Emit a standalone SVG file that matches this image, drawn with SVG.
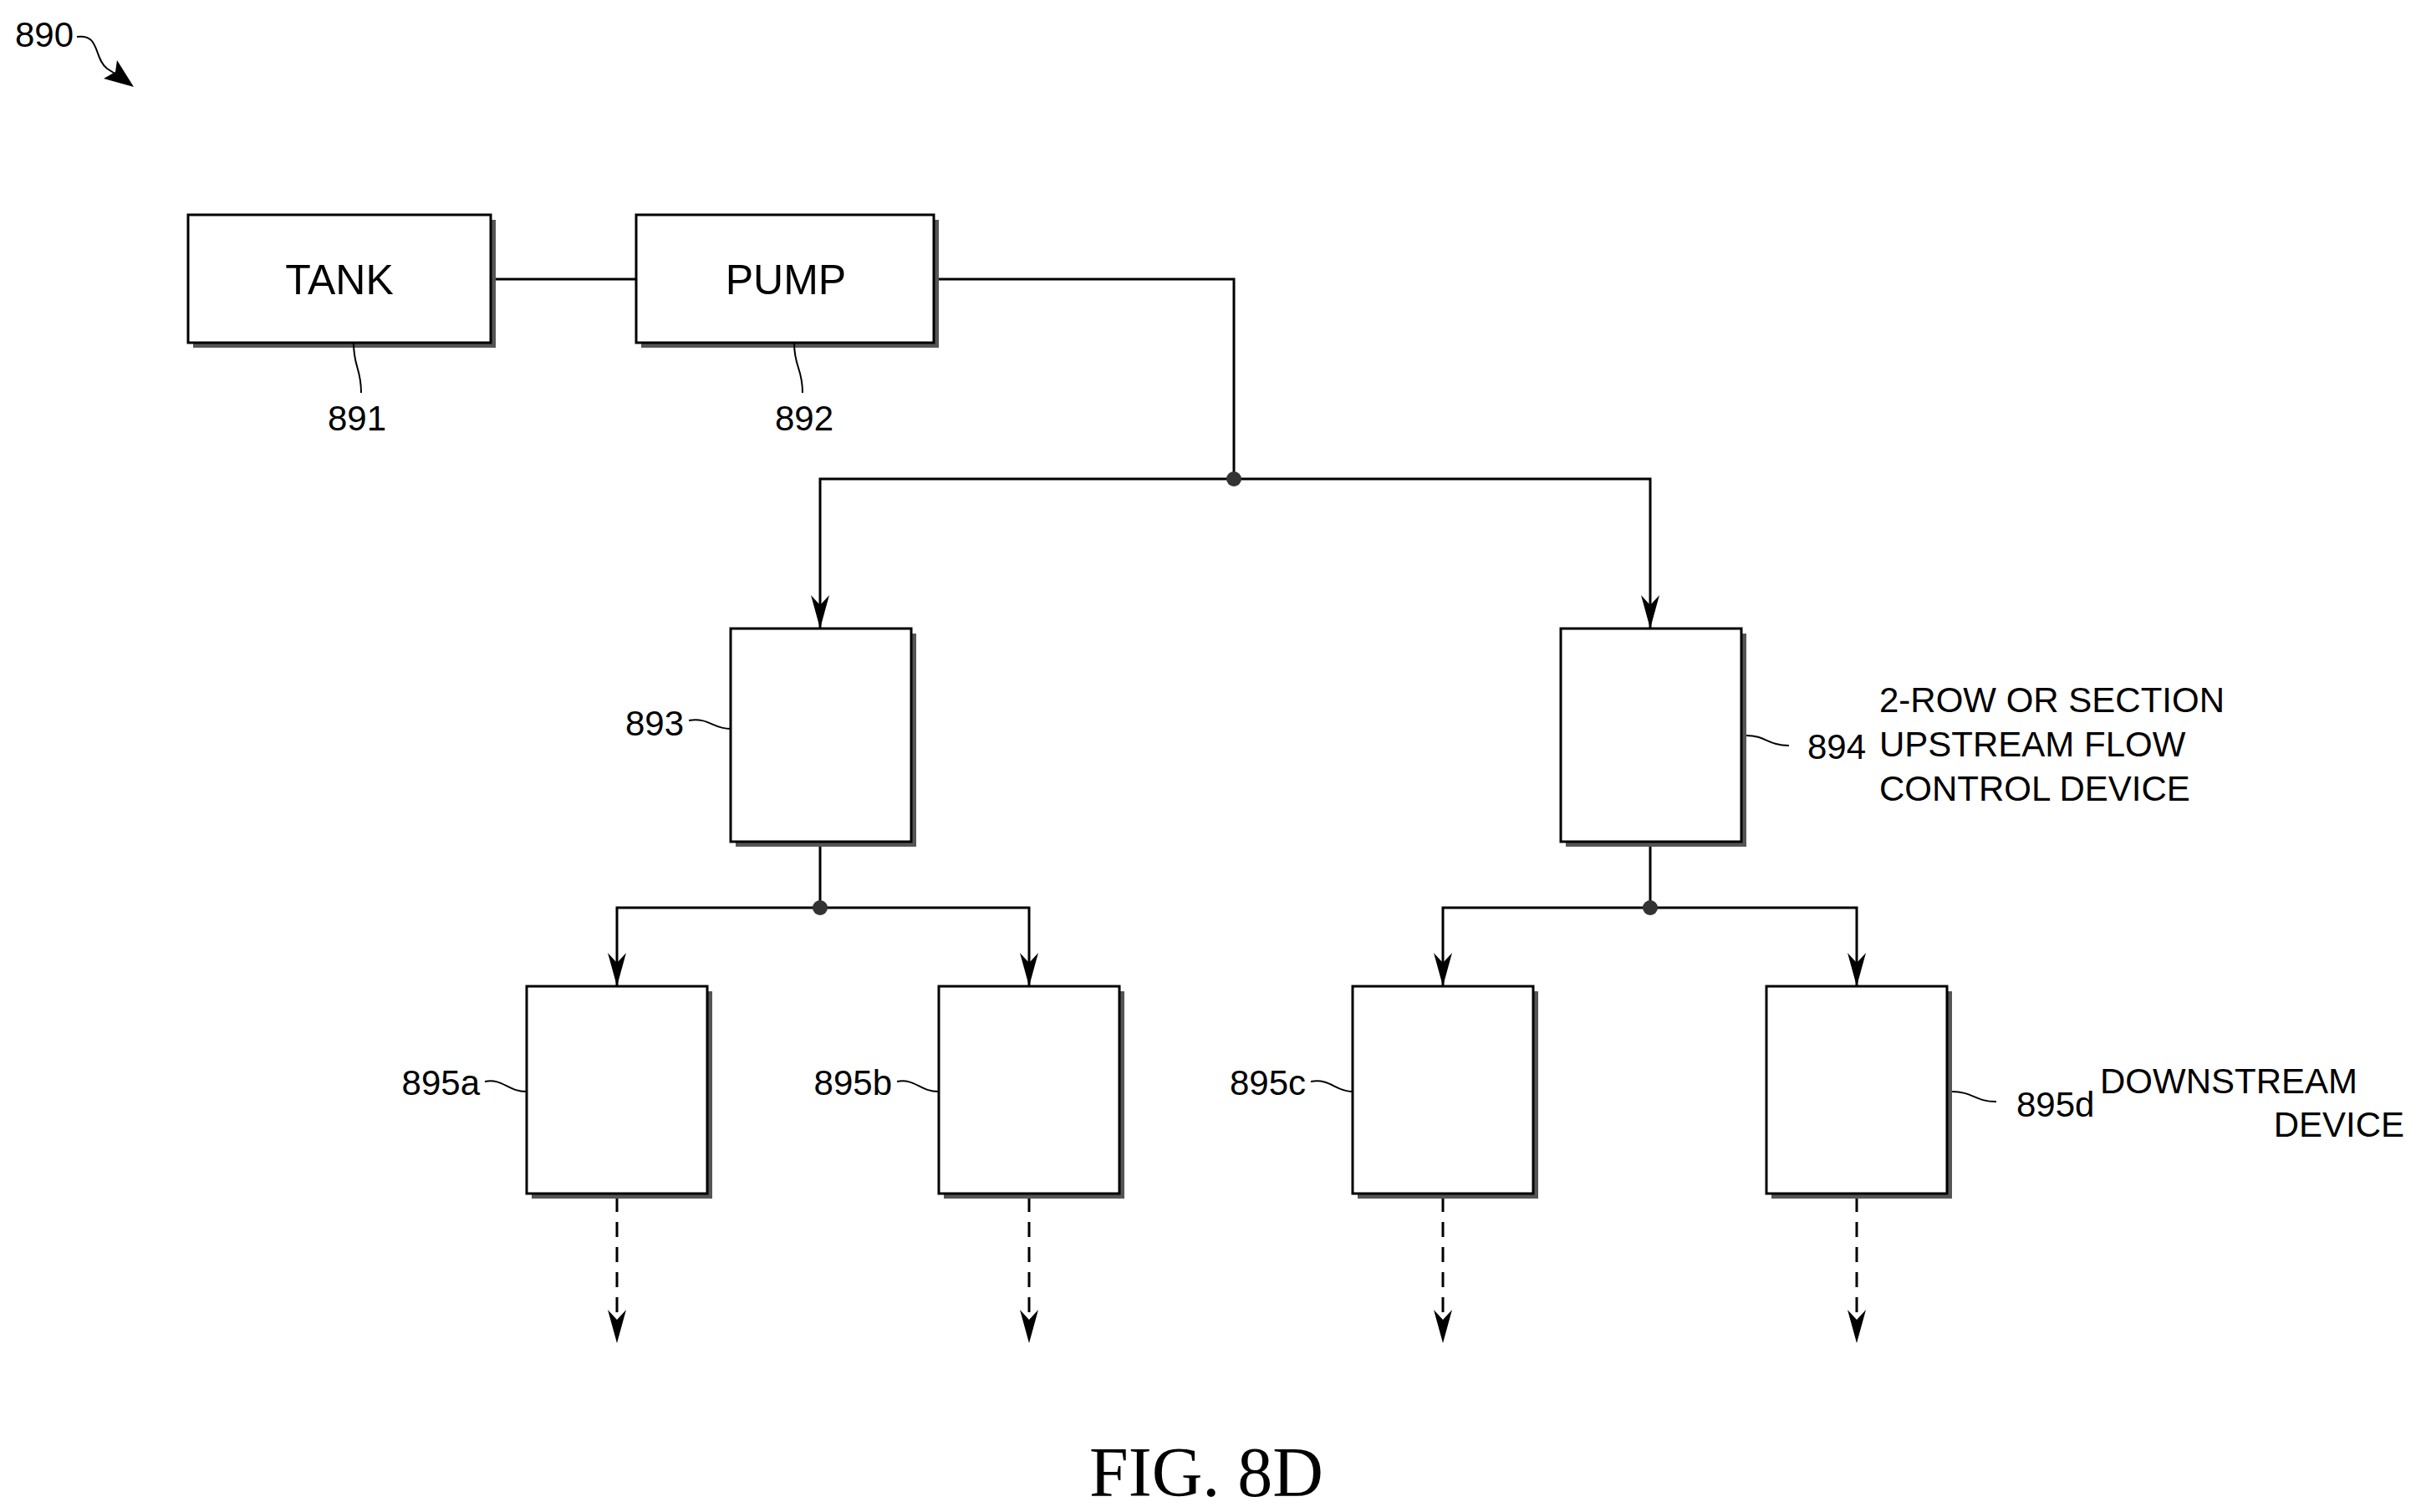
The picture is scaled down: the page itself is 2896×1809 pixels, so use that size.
<svg xmlns="http://www.w3.org/2000/svg" width="2896" height="1809" viewBox="0 0 2896 1809">
<defs>
<style>
text{font-family:"Liberation Sans",Arial,sans-serif;fill:#000}
.t{font-size:50px;text-anchor:middle}
.n{font-size:42px}
.shadow{fill:#555}
.box{fill:#fff;stroke:#000;stroke-width:3}
.ln{fill:none;stroke:#000;stroke-width:3}
.ld{fill:none;stroke:#000;stroke-width:2}
.ds{fill:none;stroke:#000;stroke-width:3;stroke-dasharray:18,12}
</style>
<marker id="ah" markerWidth="40" markerHeight="22" refX="40" refY="11" orient="auto-start-reverse" markerUnits="userSpaceOnUse" viewBox="0 0 40 22">
<path d="M0,0 L12,11 L0,22 L40,11 Z" fill="#000"/>
</marker>
</defs>
<rect width="2896" height="1809" fill="#fff"/>
<g id="ref890">
<text class="n" x="18" y="56">890</text>
<path class="ld" d="M92,44 C120,40 112,70 128,82 L150,96"/>
<path d="M160,104 L124,94 L138,86 L140,72 Z" fill="#000"/>
</g>
<g id="connectors">
<line class="ln" x1="587" y1="334" x2="761" y2="334"/>
<polyline class="ln" points="1123,334 1476,334 1476,573"/>
<polyline class="ln" points="981,752 981,573 1974,573 1974,752" marker-start="url(#ah)" marker-end="url(#ah)"/>
<line class="ln" x1="981" y1="1007" x2="981" y2="1086"/>
<polyline class="ln" points="738,1180 738,1086 1231,1086 1231,1180" marker-start="url(#ah)" marker-end="url(#ah)"/>
<line class="ln" x1="1974" y1="1007" x2="1974" y2="1086"/>
<polyline class="ln" points="1726,1180 1726,1086 2221,1086 2221,1180" marker-start="url(#ah)" marker-end="url(#ah)"/>
<circle cx="1476" cy="573" r="9" fill="#333"/>
<circle cx="981" cy="1086" r="9" fill="#333"/>
<circle cx="1974" cy="1086" r="9" fill="#333"/>
<line class="ds" x1="738" y1="1432" x2="738" y2="1607" marker-end="url(#ah)"/>
<line class="ds" x1="1231" y1="1432" x2="1231" y2="1607" marker-end="url(#ah)"/>
<line class="ds" x1="1726" y1="1432" x2="1726" y2="1607" marker-end="url(#ah)"/>
<line class="ds" x1="2221" y1="1432" x2="2221" y2="1607" marker-end="url(#ah)"/>
</g>
<g id="tank">
<rect class="shadow" x="231" y="263" width="362" height="153"/>
<rect class="box" x="225" y="257" width="362" height="153"/>
<text class="t" x="406" y="352">TANK</text>
<path class="ld" d="M423,410 C423,440 432,440 432,470"/>
<text class="n" x="427" y="515" text-anchor="middle">891</text>
</g>
<g id="pump">
<rect class="shadow" x="767" y="263" width="356" height="153"/>
<rect class="box" x="761" y="257" width="356" height="153"/>
<text class="t" x="940" y="352">PUMP</text>
<path class="ld" d="M950,410 C950,440 960,440 960,470"/>
<text class="n" x="962" y="515" text-anchor="middle">892</text>
</g>
<g id="n893">
<rect class="shadow" x="880" y="758" width="216" height="255"/>
<rect class="box" x="874" y="752" width="216" height="255"/>
<text class="n" x="818" y="880" text-anchor="end">893</text>
<path class="ld" d="M824,862 C848,858 852,872 874,872"/>
</g>
<g id="n894">
<rect class="shadow" x="1873" y="758" width="216" height="255"/>
<rect class="box" x="1867" y="752" width="216" height="255"/>
<path class="ld" d="M2089,880 C2112,880 2115,892 2140,892"/>
<text class="n" x="2162" y="908">894</text>
<text class="n" x="2248" y="852" font-size="51">2-ROW OR SECTION</text>
<text class="n" x="2248" y="905" font-size="51">UPSTREAM FLOW</text>
<text class="n" x="2248" y="958" font-size="51">CONTROL DEVICE</text>
</g>
<g id="n895a">
<rect class="shadow" x="636" y="1186" width="216" height="248"/>
<rect class="box" x="630" y="1180" width="216" height="248"/>
<text class="n" x="574" y="1310" text-anchor="end">895a</text>
<path class="ld" d="M580,1294 C602,1290 607,1306 630,1306"/>
</g>
<g id="n895b">
<rect class="shadow" x="1129" y="1186" width="216" height="248"/>
<rect class="box" x="1123" y="1180" width="216" height="248"/>
<text class="n" x="1067" y="1310" text-anchor="end">895b</text>
<path class="ld" d="M1073,1294 C1095,1290 1100,1306 1123,1306"/>
</g>
<g id="n895c">
<rect class="shadow" x="1624" y="1186" width="216" height="248"/>
<rect class="box" x="1618" y="1180" width="216" height="248"/>
<text class="n" x="1562" y="1310" text-anchor="end">895c</text>
<path class="ld" d="M1568,1294 C1592,1290 1597,1306 1618,1306"/>
</g>
<g id="n895d">
<rect class="shadow" x="2119" y="1186" width="216" height="248"/>
<rect class="box" x="2113" y="1180" width="216" height="248"/>
<path class="ld" d="M2335,1306 C2360,1306 2362,1318 2388,1318"/>
<text class="n" x="2412" y="1336" font-size="40">895d</text>
<text class="n" x="2512" y="1308" font-size="50">DOWNSTREAM</text>
<text class="n" x="2876" y="1360" font-size="50" text-anchor="end">DEVICE</text>
</g>
<text x="1443" y="1790" font-size="84" text-anchor="middle" style="font-family:'Liberation Serif',serif">FIG. 8D</text>
</svg>
